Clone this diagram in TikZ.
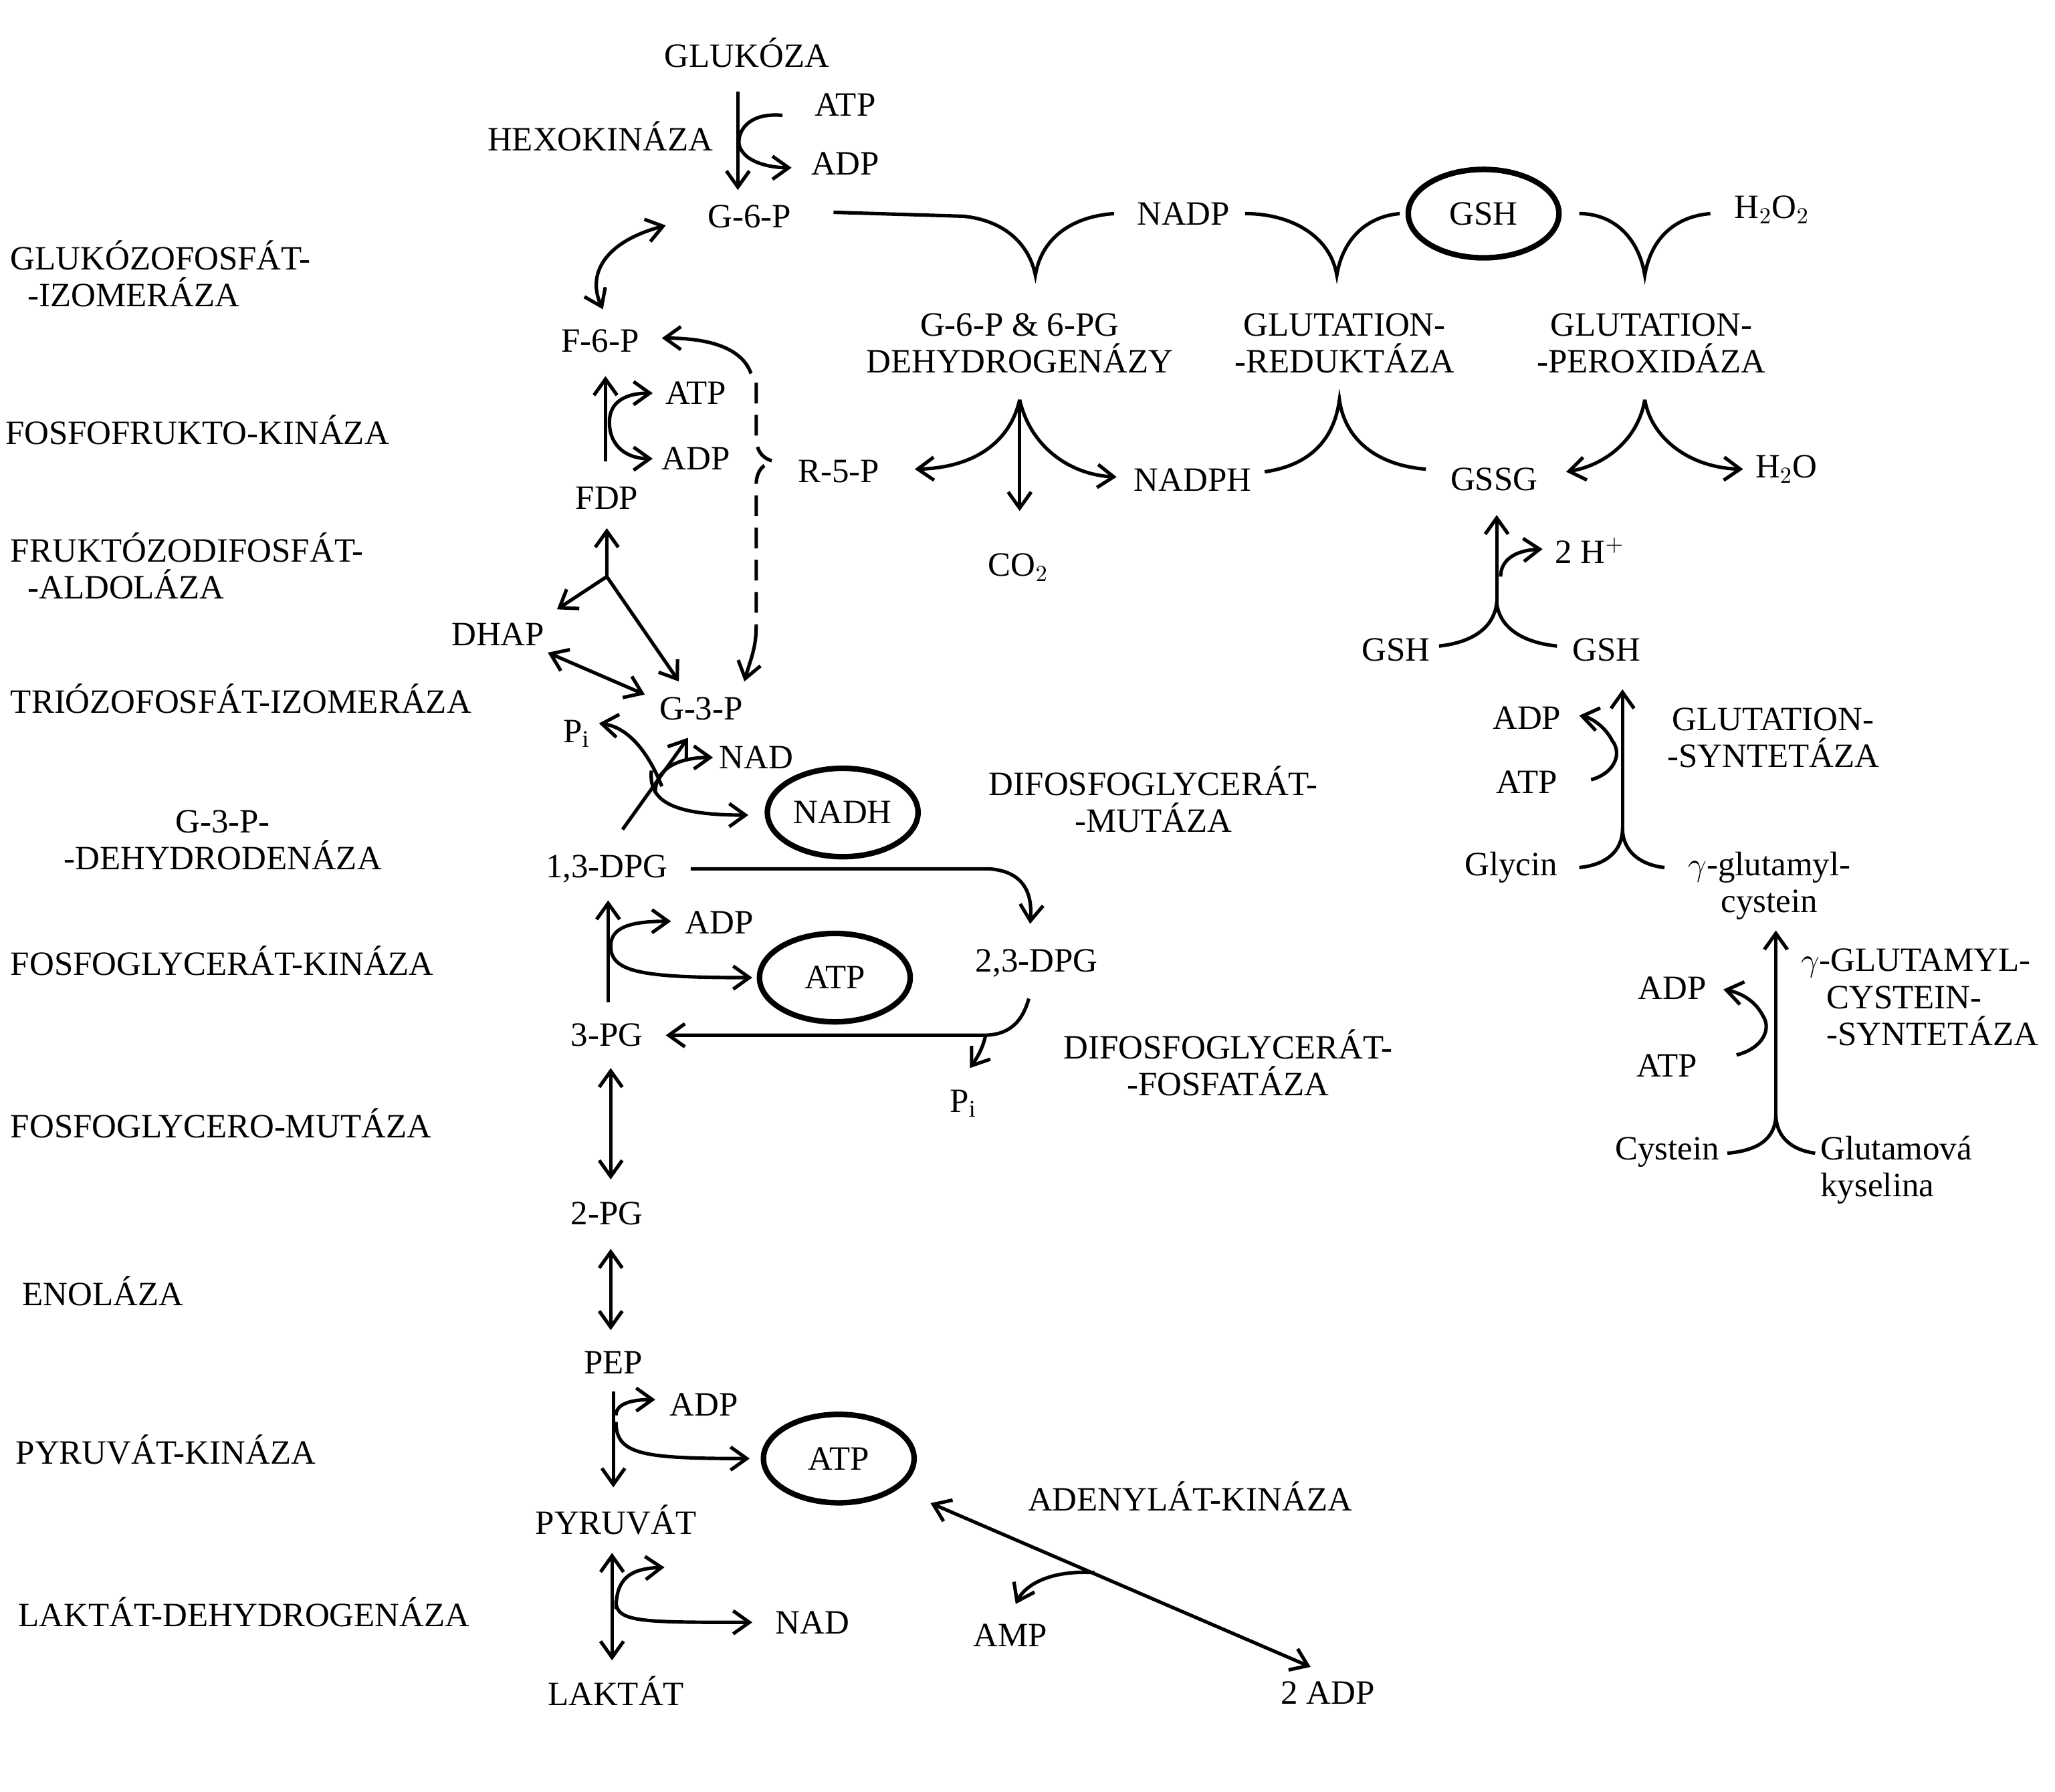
\documentclass[tikz,border=0pt]{standalone}
\usepackage{fontspec}
\setmainfont{Liberation Serif}
\usetikzlibrary{arrows.meta,shapes.geometric}
\begin{document}
\begin{tikzpicture}[x=0.02cm,y=-0.02cm,
  every node/.style={font=\fontsize{14.8}{16}\selectfont,inner sep=1pt},
  t/.style={align=center},
  L/.style={anchor=west,align=left},
  ell/.style={draw,ellipse,line width=2.4pt,minimum width=2.3cm,minimum height=1.35cm,inner sep=0pt},
  ln/.style={line width=1.5pt},
  ar/.style={ln,-{Straight Barb[length=7pt,width=10pt]}},
  dar/.style={ln,{Straight Barb[length=7pt,width=10pt]}-{Straight Barb[length=7pt,width=10pt]}}]
\useasboundingbox (0,0) rectangle (1568,1367);
% left labels
\node[L] (e1) at (6,209) {GLUKÓZOFOSFÁT-\\\ \ -IZOMERÁZA};
\node[L] (e2) at (2,328) {FOSFOFRUKTO-KINÁZA};
\node[L] (e3) at (6,432) {FRUKTÓZODIFOSFÁT-\\\ \ -ALDOLÁZA};
\node[L] (e4) at (6,533) {TRIÓZOFOSFÁT-IZOMERÁZA};
\node[t] (e5) at (170,641) {G-3-P-\\-DEHYDRODENÁZA};
\node[L] (e6) at (6,733) {FOSFOGLYCERÁT-KINÁZA};
\node[L] (e7) at (6,857) {FOSFOGLYCERO-MUTÁZA};
\node[L] (e8) at (15,985) {ENOLÁZA};
\node[L] (e9) at (10,1106) {PYRUVÁT-KINÁZA};
\node[L] (e10) at (12,1230) {LAKTÁT-DEHYDROGENÁZA};
\node[t] (e11) at (570,40) {GLUKÓZA};
\node[t] (e12) at (458,104) {HEXOKINÁZA};
\node[t] (atp1) at (645,80) {ATP};
\node[t] (adp1) at (645,125) {ADP};
\node[t] (g6p) at (572,165) {G-6-P};
\node[t] (f6p) at (458,260) {F-6-P};
\node[t] (atp2) at (531,300) {ATP};
\node[t] (adp2) at (531,350) {ADP};
\node[t] (fdp) at (463,380) {FDP};
\node[t] (r5p) at (640,360) {R-5-P};
\node[t] (dhap) at (380,484) {DHAP};
\node[t] (g3p) at (535,541) {G-3-P};
\node[t] (pi1) at (440,560) {P$_{\mathrm{i}}$};
\node[t] (nad1) at (577,578) {NAD};
\node[ell] (nadh) at (643,620) {NADH};
\node[t] (dpg13) at (463,663) {1,3-DPG};
\node[t] (m1) at (880,610) {DIFOSFOGLYCERÁT-\\-MUTÁZA};
\node[t] (adp3) at (549,704) {ADP};
\node[ell] (atp3) at (637,746) {ATP};
\node[t] (dpg23) at (791,735) {2,3-DPG};
\node[t] (pg3) at (463,790) {3-PG};
\node[t] (m2) at (937,811) {DIFOSFOGLYCERÁT-\\-FOSFATÁZA};
\node[t] (pi2) at (735,842) {P$_{\mathrm{i}}$};
\node[t] (pg2) at (463,926) {2-PG};
\node[t] (pep) at (468,1040) {PEP};
\node[t] (adp4) at (537,1072) {ADP};
\node[ell] (atp4) at (640,1113) {ATP};
\node[t] (pyr) at (470,1160) {PYRUVÁT};
\node[t] (m3) at (908,1142) {ADENYLÁT-KINÁZA};
\node[t] (nad2) at (620,1238) {NAD};
\node[t] (amp) at (771,1248) {AMP};
\node[t] (lak) at (470,1290) {LAKTÁT};
\node[t] (adp5) at (1013,1292) {2 ADP};
% right part
\node[t] (nadp) at (903,163) {NADP};
\node[ell] (gsh0) at (1132,163) {GSH};
\node[t] (h2o2) at (1352,160) {H$_2$O$_2$};
\node[t] (m4) at (778,262) {G-6-P \& 6-PG\\DEHYDROGENÁZY};
\node[t] (m5) at (1026,262) {GLUTATION-\\-REDUKTÁZA};
\node[t] (m6) at (1260,262) {GLUTATION-\\-PEROXIDÁZA};
\node[t] (nadph) at (910,366) {NADPH};
\node[t] (co2) at (777,433) {CO$_2$};
\node[t] (gssg) at (1140,366) {GSSG};
\node[t] (h2o) at (1363,358) {H$_2$O};
\node[t] (hp) at (1213,420) {2 H$^+$};
\node[t] (gsh1) at (1065,496) {GSH};
\node[t] (gsh2) at (1226,496) {GSH};
\node[t] (adp6) at (1165,548) {ADP};
\node[t] (atp6) at (1165,597) {ATP};
\node[t] (m7) at (1353,563) {GLUTATION-\\-SYNTETÁZA};
\node[t] (gly) at (1153,662) {Glycin};
\node[t] (ggc) at (1350,676) {$\gamma$-glutamyl-\\cystein};
\node[t] (adp7) at (1276,754) {ADP};
\node[t] (atp7) at (1272,813) {ATP};
\node[L] (m8) at (1372,761) {$\gamma$-GLUTAMYL-\\\ \ \ CYSTEIN-\\\ \ \ -SYNTETÁZA};
\node[t] (cys) at (1272,879) {Cystein};
\node[L] (glu) at (1387,893) {Glutamová\\kyselina};
% connectors glycolysis
\draw[ar] (563,70) -- (563,145);
\draw[ar] (597,88) .. controls (565,85) and (560,108) .. (566,115) .. controls (572,125) and (590,128) .. (604,128);
\draw[dar] (508,172) .. controls (460,185) and (448,210) .. (460,236);
\draw[ar] (462,352) -- (462,287);
\draw[ar] (465,322) .. controls (465,305) and (480,300) .. (498,300);
\draw[ar] (465,322) .. controls (465,342) and (480,350) .. (498,350);
\draw[ar] (573,285) .. controls (566,265) and (540,258) .. (505,258);
\draw[ln,dash pattern=on 9pt off 5pt] (577,292) -- (577,336) .. controls (578,346) and (583,350) .. (590,352) .. controls (583,354) and (578,358) .. (577,368) -- (577,478);
\draw[ar] (577,478) .. controls (577,495) and (572,505) .. (568,520);
\draw[ar] (463,440) -- (463,403);
\draw[ar] (463,440) -- (425,465);
\draw[ar] (463,440) -- (518,520);
\draw[dar] (418,498) -- (492,530);
\draw[ar] (475,633) -- (525,563);
\draw[ar] (505,600) .. controls (495,575) and (480,555) .. (457,552);
\draw[ar] (500,605) .. controls (500,585) and (520,578) .. (544,578);
\draw[ar] (497,588) .. controls (495,610) and (510,622) .. (571,622);
\draw[ar] (527,663) -- (755,663) .. controls (780,665) and (788,680) .. (786,705);
\draw[ar] (464,765) -- (464,687);
\draw[ar] (466,722) .. controls (466,708) and (480,703) .. (512,703);
\draw[ar] (466,722) .. controls (466,742) and (490,746) .. (574,746);
\draw[ar] (785,762) .. controls (780,780) and (770,790) .. (750,790) -- (508,790);
\draw[ar] (752,790) .. controls (750,800) and (745,808) .. (740,815);
\draw[dar] (466,815) -- (466,900);
\draw[dar] (466,953) -- (466,1015);
\draw[ar] (468,1062) -- (468,1135);
\draw[ar] (470,1080) .. controls (470,1070) and (485,1068) .. (500,1068);
\draw[ar] (470,1085) .. controls (470,1110) and (490,1113) .. (572,1113);
\draw[dar] (467,1185) -- (467,1267);
\draw[ar] (470,1228) .. controls (470,1205) and (480,1197) .. (507,1196);
\draw[ar] (470,1222) .. controls (470,1238) and (490,1238) .. (574,1238);
\draw[dar] (710,1147) -- (1000,1272);
\draw[ar] (835,1200) .. controls (800,1198) and (782,1210) .. (775,1224);
% right connectors
\draw[ln] (636,162) -- (735,165) .. controls (765,168) and (785,185) .. (790,210) .. controls (795,180) and (820,165) .. (850,163);
\draw[ln] (950,163) .. controls (985,163) and (1015,180) .. (1020,210) .. controls (1025,180) and (1045,165) .. (1068,163);
\draw[ln] (1205,163) .. controls (1230,163) and (1250,180) .. (1255,210) .. controls (1260,180) and (1280,165) .. (1305,163);
\draw[ar] (778,305) .. controls (770,340) and (740,357) .. (698,358);
\draw[ar] (778,305) .. controls (786,340) and (815,362) .. (852,364);
\draw[ar] (778,305) -- (778,390);
\draw[ln] (965,360) .. controls (1000,355) and (1018,335) .. (1022,305) .. controls (1026,335) and (1050,355) .. (1088,358);
\draw[ar] (1255,305) .. controls (1250,335) and (1225,355) .. (1195,360);
\draw[ar] (1255,305) .. controls (1260,335) and (1290,357) .. (1330,358);
\draw[ar] (1142,462) -- (1142,393);
\draw[ar] (1145,440) .. controls (1145,428) and (1155,420) .. (1177,419);
\draw[ln] (1098,493) .. controls (1125,490) and (1140,478) .. (1142,460) .. controls (1144,478) and (1160,490) .. (1188,493);
\draw[ar] (1238,640) -- (1238,526);
\draw[ar] (1214,595) .. controls (1232,590) and (1238,575) .. (1230,565) .. controls (1225,555) and (1215,548) .. (1205,546);
\draw[ln] (1205,662) .. controls (1225,660) and (1238,650) .. (1238,632) .. controls (1238,650) and (1252,660) .. (1270,662);
\draw[ar] (1355,855) -- (1355,710);
\draw[ar] (1325,805) .. controls (1345,800) and (1352,785) .. (1345,775) .. controls (1340,765) and (1330,758) .. (1315,755);
\draw[ln] (1318,880) .. controls (1340,878) and (1355,870) .. (1355,850) .. controls (1355,870) and (1370,878) .. (1385,880);
\end{tikzpicture}
\end{document}
